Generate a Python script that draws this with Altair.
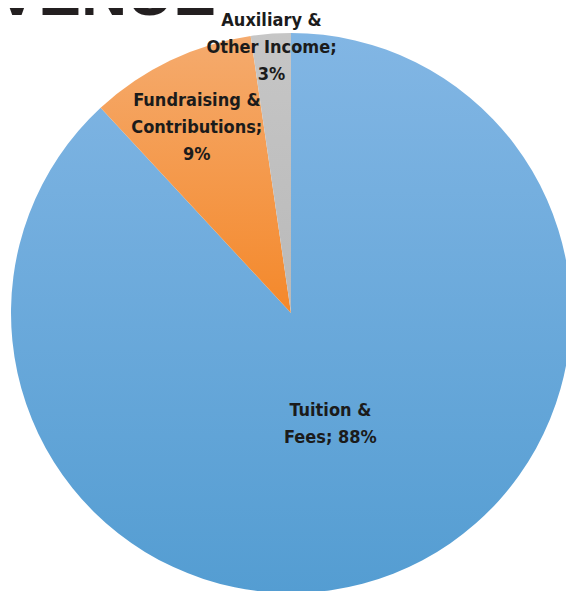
import altair as alt
import pandas as pd

categories = ["Tuition & Fees", "Fundraising & Contributions", "Auxiliary & Other Income"]
values = [88.1, 9.6, 2.3]
labels = ["Tuition &\nFees; 88%", "Fundraising &\nContributions;\n9%", "Auxiliary &\nOther Income;\n3%"]
title_text = "REVENUE"

df = pd.DataFrame({"category": categories, "value": values, "label": labels})

CX, CY, R = 283, 305, 280
FONT = "Liberation Sans Narrow, DejaVu Sans Condensed, Roboto, sans-serif"

base = alt.Chart(df).transform_window(
    end="sum(value)", frame=[None, 0]
).transform_calculate(
    start="datum.end - datum.value",
    mid="datum.end - datum.value / 2",
)

theta_scale = alt.Scale(domain=[0, 100])

fills = {
    categories[0]: ("#82b6e4", "#549dd2"),
    categories[1]: ("#f5ab6e", "#f4882a"),
    categories[2]: ("#c6c6c6", "#b9b9b9"),
}
# radius, dx, dy of each label block
label_pos = {
    categories[0]: (116, -3, -9.5),
    categories[1]: (209, -4, -23),
    categories[2]: (270, 0, -23),
}

layers = []
for cat in categories:
    top, bot = fills[cat]
    grad = alt.LinearGradient(
        gradient="linear",
        stops=[alt.GradientStop(offset=0, color=top), alt.GradientStop(offset=1, color=bot)],
        x1=0, x2=0, y1=0, y2=1,
    )
    layers.append(
        base.transform_filter(alt.datum.category == cat)
        .mark_arc(radius=R, fill=grad)
        .encode(
            theta=alt.Theta("start:Q", scale=theta_scale),
            theta2="end:Q",
            x=alt.value(CX),
            y=alt.value(CY),
        )
    )

for cat in categories:
    r, ddx, ddy = label_pos[cat]
    layers.append(
        base.transform_filter(alt.datum.category == cat)
        .mark_text(font=FONT, fontSize=18, fontWeight="bold", color="#1b1b1b",
                   lineBreak="\n", lineHeight=27, align="center", baseline="middle",
                   dx=ddx, dy=ddy)
        .encode(
            theta=alt.Theta("mid:Q", scale=theta_scale),
            radius=alt.value(r),
            x=alt.value(CX),
            y=alt.value(CY),
            text="label:N",
        )
    )

title = alt.Chart(pd.DataFrame({"t": [title_text]})).mark_text(
    font="Liberation Sans, Arial, sans-serif", fontSize=64, fontWeight="bold",
    color="#231f20", align="right", baseline="alphabetic"
).encode(text="t:N", x=alt.value(208), y=alt.value(7))
layers.append(title)

chart = alt.layer(*layers).properties(
    width=558, height=583, padding=0,
    autosize=alt.AutoSizeParams(type="none"),
).configure_view(stroke=None)

chart.save("out.html", embed_options={"renderer": "svg", "actions": False})
